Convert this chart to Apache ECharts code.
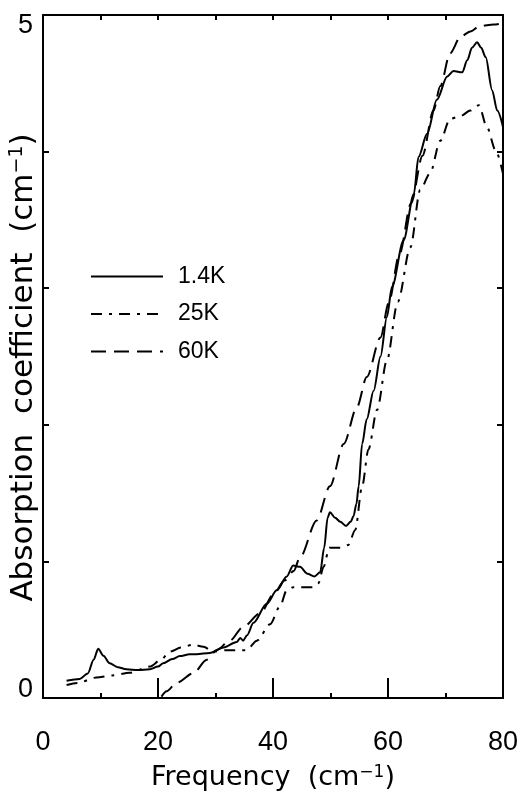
<!DOCTYPE html>
<html>
<head>
<meta charset="utf-8">
<script src="https://cdn.jsdelivr.net/npm/echarts@6/dist/echarts.min.js"></script>
<style>
html,body{margin:0;padding:0;background:#fff;}
#c{width:525px;height:795px;}
</style>
</head>
<body>
<div id="c"></div>
<script>
// ---- data ----
const seriesNames = ['1.4K', '25K', '60K'];
const xTickLabels = [0, 20, 40, 60, 80];
const yTickLabels = [0, 5];

const x14 = [4.1,6.4,7.8,8.8,9.6,10.5,11.6,13,14.5,16.5,18.6,20,20.9,22.5,23.8,25.5,26.7,29.0,31.4,33.7,34.3,34.8,35.5,36.6,38.9,40.7,42.4,43.5,44.7,46,47.2,48.2,48.9,49.5,49.9,50.8,51.7,52.7,53.5,54.0,54.5,54.9,55.5,56.3,57.5,58.7,59.8,60.7,62.7,64.5,65.3,66.8,68.5,70.3,71.4,72.9,73.8,74.6,75.5,76.2,77.0,78.1,79,80];
const y14 = [0.127,0.14,0.18,0.28,0.36,0.31,0.254,0.225,0.21,0.205,0.21,0.23,0.254,0.285,0.307,0.32,0.32,0.33,0.37,0.41,0.44,0.42,0.46,0.55,0.69,0.79,0.89,0.97,0.96,0.91,0.89,0.92,1.1,1.32,1.36,1.32,1.29,1.26,1.29,1.33,1.42,1.55,1.86,2.04,2.25,2.5,2.79,3.01,3.35,3.69,3.96,4.13,4.38,4.55,4.59,4.58,4.67,4.76,4.80,4.76,4.69,4.45,4.3,4.18];

const x25 = [4.1,6,9.3,12,15.1,18.6,20.5,22.1,24,26.1,27.9,29.6,31.9,33.5,35.4,37.2,39.5,41.2,42.4,43.5,44.7,46,47.0,47.9,48.8,49.8,51.7,53.1,54.3,55.5,56.6,58.1,59.8,61.7,63.9,65.6,67.3,69.1,70.8,72.6,74.3,75.8,77.2,78.7,80];
const y25 = [0.095,0.11,0.15,0.165,0.185,0.23,0.28,0.34,0.37,0.39,0.375,0.34,0.35,0.35,0.35,0.42,0.54,0.67,0.79,0.81,0.81,0.81,0.81,0.84,0.96,1.10,1.10,1.12,1.23,1.55,1.82,2.11,2.47,2.9,3.30,3.72,3.84,4.08,4.24,4.26,4.30,4.34,4.18,4.01,3.84];

const x60 = [20.6,21.5,23.2,26.1,28.5,30.2,32.5,34.8,37.8,40.1,42,43.6,44.7,47.6,49.9,52.3,54.6,56.3,58.7,60.1,62,64,66,67.9,69.1,70.8,72.6,74.3,76.0,78.4,80];
const y60 = [0.01,0.05,0.11,0.18,0.28,0.35,0.42,0.52,0.62,0.76,0.86,0.93,1.03,1.30,1.55,1.86,2.13,2.35,2.64,2.89,3.25,3.62,3.97,4.30,4.48,4.72,4.84,4.88,4.92,4.93,4.94];

function pairs(xs, ys){ return xs.map((x,i)=>[x, ys[i]]); }

const TICKFONT = 'Liberation Sans';
const TITLEFONT = 'DejaVu Sans';

const chart = echarts.init(document.getElementById('c'), null, {renderer:'canvas'});
const axisLineStyle = {color:'#000', width:2};
chart.setOption({
  animation:false,
  backgroundColor:'#fff',
  grid:{left:43, right:22, top:15, bottom:97, containLabel:false, outerBoundsMode:'none'},
  legend:{
    data:seriesNames, orient:'vertical', left:90, top:265, padding:0,
    itemWidth:72, itemHeight:20, itemGap:14.5,
    itemStyle:{opacity:0},
    textStyle:{fontFamily:TICKFONT, fontSize:23, color:'#000', padding:[0,0,0,10]}
  },
  xAxis:[
    {type:'value', position:'bottom', min:0, max:80, interval:10,
     axisLine:{show:true, onZero:false, lineStyle:axisLineStyle},
     axisTick:{show:true, inside:true, length:5, lineStyle:{color:'#000', width:2}},
     splitLine:{show:false},
     axisLabel:{margin:31, fontFamily:TICKFONT, fontSize:27, color:'#000',
       formatter:v => xTickLabels.indexOf(v) >= 0 ? String(v) : ''},
     name:'{n|Frequency  (cm}{s|−1}{n|)}', nameLocation:'middle', nameGap:66, nameMoveOverlap:false,
     nameTextStyle:{rich:{
       n:{fontFamily:TITLEFONT, fontSize:27, color:'#000'},
       s:{fontFamily:TITLEFONT, fontSize:17, color:'#000', verticalAlign:'top'}
     }}
    },
    {type:'value', position:'bottom', min:0, max:80, interval:20,
     axisLine:{show:false}, splitLine:{show:false}, axisLabel:{show:false},
     axisTick:{show:true, inside:true, length:20, lineStyle:{color:'#000', width:2}}
    },
    {type:'value', position:'top', min:0, max:80, interval:10,
     axisLine:{show:true, onZero:false, lineStyle:axisLineStyle},
     splitLine:{show:false}, axisLabel:{show:false},
     axisTick:{show:true, inside:true, length:5, lineStyle:{color:'#000', width:2}}
    }
  ],
  yAxis:[
    {type:'value', position:'left', min:0, max:5, interval:1,
     axisLine:{show:true, onZero:false, lineStyle:axisLineStyle},
     axisTick:{show:true, inside:true, length:6, lineStyle:{color:'#000', width:2}},
     splitLine:{show:false},
     axisLabel:{margin:10,
       formatter:v => v === yTickLabels[1] ? '{t|' + v + '}' : (v === yTickLabels[0] ? '{b|' + v + '}' : ''),
       rich:{
         t:{fontFamily:TICKFONT, fontSize:27, color:'#000', padding:[22,0,0,0]},
         b:{fontFamily:TICKFONT, fontSize:27, color:'#000', padding:[0,0,16,0]}
       }},
     name:'{n|Absorption  coefficient  (cm}{s|−1}{n|)}', nameLocation:'middle', nameGap:4, nameMoveOverlap:false,
     nameTextStyle:{padding:[0,22,0,0], rich:{
       n:{fontFamily:TITLEFONT, fontSize:31, color:'#000'},
       s:{fontFamily:TITLEFONT, fontSize:19, color:'#000', verticalAlign:'top'}
     }}
    },
    {type:'value', position:'right', min:0, max:5, interval:1,
     axisLine:{show:true, onZero:false, lineStyle:axisLineStyle},
     splitLine:{show:false}, axisLabel:{show:false},
     axisTick:{show:true, inside:true, length:6, lineStyle:{color:'#000', width:2}}
    }
  ],
  series:[
    {name:seriesNames[0], type:'line', data:pairs(x14,y14), symbol:'none', smooth:0.3, smoothMonotone:'x',
     lineStyle:{color:'#000', width:2, type:'solid'}, itemStyle:{color:'#000'}},
    {name:seriesNames[1], type:'line', data:pairs(x25,y25), symbol:'none', smooth:0.3, smoothMonotone:'x',
     lineStyle:{color:'#000', width:2, type:[11,7,3,7]}, itemStyle:{color:'#000'}},
    {name:seriesNames[2], type:'line', data:pairs(x60,y60), symbol:'none', smooth:0.3, smoothMonotone:'x',
     lineStyle:{color:'#000', width:2, type:[15,8]}, itemStyle:{color:'#000'}}
  ]
});
</script>
</body>
</html>
